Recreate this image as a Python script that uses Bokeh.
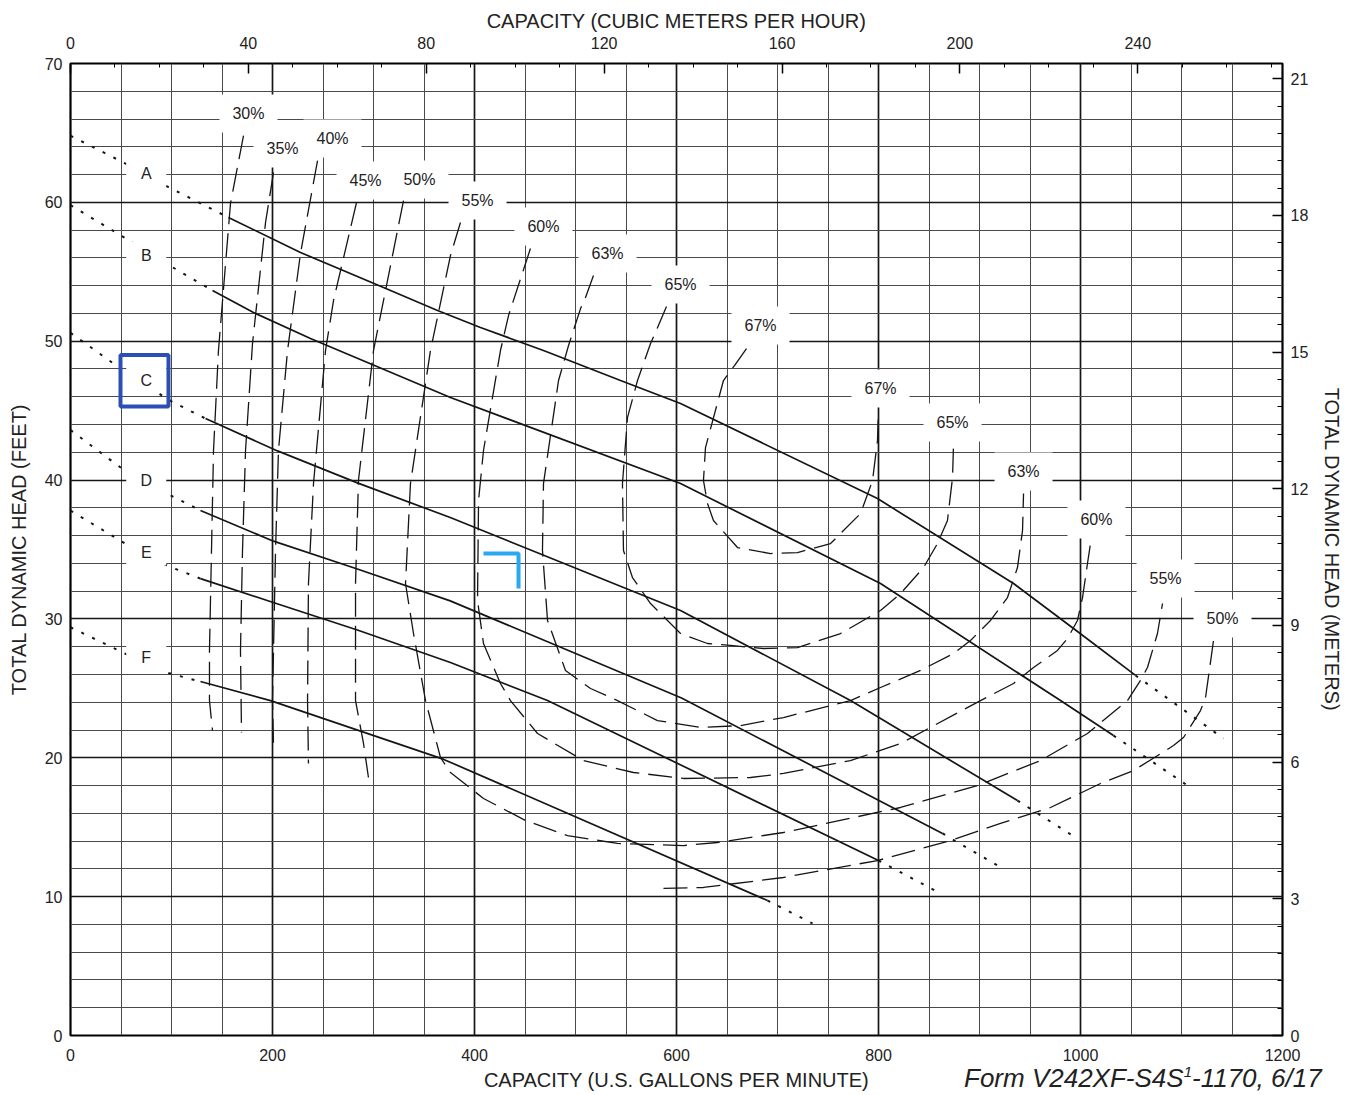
from bokeh.plotting import figure
from bokeh.layouts import column
from bokeh.models import (Range1d, LinearAxis, SingleIntervalTicker, BoxAnnotation,
                          Div, ColumnDataSource, FixedTicker)
from bokeh.core.properties import value
from bokeh.embed import file_html
from bokeh.resources import INLINE

FONT = "Liberation Sans"
GPM_TO_M3H = 0.227125
FT_TO_M = 0.3048

# ---------------- head-capacity curves (solid part) ----------------
curve_names = ["A", "B", "C", "D", "E", "F"]
A_q = [156.4, 227.7, 309.9, 363.4, 405.9, 468.3, 544.6, 604.0, 799.0, 933.7, 993.1, 1054.5]
A_h = [58.91, 56.39, 53.87, 52.21, 50.99, 49.33, 47.17, 45.51, 38.67, 32.55, 29.31, 25.93]
B_q = [140.6, 181.2, 237.6, 376.2, 604.0, 802.0, 980.2, 1032.7]
B_h = [53.65, 52.07, 50.19, 45.95, 39.75, 32.55, 24.12, 21.60]
C_q = [133.7, 205.0, 284.0, 376.0, 604.0, 772.3, 937.6]
C_h = [44.43, 42.10, 39.80, 37.30, 30.61, 24.12, 16.92]
D_q = [128.7, 201.0, 284.0, 376.0, 605.0, 863.4]
D_h = [37.81, 35.60, 33.60, 31.30, 24.30, 14.55]
E_q = [128.7, 200.0, 284.0, 376.2, 472.3, 800.0]
E_h = [32.90, 31.20, 29.20, 26.86, 24.12, 12.60]
F_q = [128.7, 198.0, 369.0, 690.1]
F_h = [25.49, 24.12, 19.90, 9.72]

# dotted extensions (low-flow side, passing behind the letter label)
A_lo_q = [0, 57, 97, 156.4];   A_lo_h = [64.8, 62.7, 61.1, 58.91]
B_lo_q = [0, 57, 97, 140.6];   B_lo_h = [59.8, 57.3, 55.5, 53.65]
C_lo_q = [0, 56, 99, 133.7];   C_lo_h = [50.6, 47.7, 45.7, 44.43]
D_lo_q = [0, 57, 99, 128.7];   D_lo_h = [43.6, 40.5, 38.9, 37.81]
E_lo_q = [0, 57, 97, 128.7];   E_lo_h = [37.8, 35.3, 33.8, 32.90]
F_lo_q = [0, 57, 97, 128.7];   F_lo_h = [29.4, 27.4, 26.1, 25.49]
# dotted extensions (high-flow side)
A_hi_q = [1054.5, 1141.6]; A_hi_h = [25.93, 21.39]
B_hi_q = [1032.7, 1108.9]; B_hi_h = [21.60, 17.86]
C_hi_q = [937.6, 992.1];   C_hi_h = [16.92, 14.40]
D_hi_q = [863.4, 917.8];   D_hi_h = [14.55, 12.24]
E_hi_q = [800.0, 861.4];   E_hi_h = [12.60, 10.23]
F_hi_q = [690.1, 734.7];   F_hi_h = [9.72, 8.07]

# curve letter labels
letter_q = [75, 75, 75, 75, 75, 75]
letter_h = [62.1, 56.2, 47.2, 40.0, 34.8, 27.2]

# ---------------- iso-efficiency curves (dashed) ----------------
eff30_q = [171.3, 158.4, 146.5, 141.6, 139.6, 137.6, 137.6, 140.6]
eff30_h = [64.81, 59.92, 49.33, 42.13, 34.93, 27.73, 24.12, 21.96]
eff35_q = [201.0, 193.1, 180.2, 173.3, 170.3, 168.3, 169.3]
eff35_h = [62.15, 58.55, 49.83, 42.13, 34.93, 27.73, 21.82]
eff40_q = [244.6, 227.7, 214.9, 205.9, 203.0, 201.0, 200.0, 201.0]
eff40_h = [63.01, 56.32, 49.33, 42.13, 34.93, 27.73, 24.12, 20.88]
eff45_q = [283.2, 260.4, 252.5, 240.6, 235.6, 234.7, 235.6]
eff45_h = [59.99, 52.93, 49.33, 39.75, 32.55, 24.12, 19.59]
eff50a_q = [329.7, 309.9, 300.0, 285.1, 282.2, 282.2, 290.1, 295.0]
eff50a_h = [60.13, 52.93, 49.33, 39.97, 32.55, 24.12, 21.03, 18.58]
eff50b_q = [587.1, 626.7, 705.9, 799.0, 871.3, 920.8, 970.3, 1019.8, 1052.5, 1092.1,
            1102.0, 1118.8, 1123.8, 1131.7]
eff50b_h = [10.59, 10.66, 11.38, 12.60, 14.04, 15.27, 16.42, 18.15, 19.08, 20.88,
            21.46, 23.40, 24.34, 28.45]
eff55_q = [386.1, 376.2, 356.4, 336.6, 331.7, 339.6, 351.5, 366.3, 376.2, 408.9, 450.5,
           492.1, 541.6, 606.9, 640.6, 705.9, 821.8, 898.0, 960.4, 1006.9, 1046.5, 1059.4,
           1066.3, 1076.2, 1081.2]
eff55_h = [58.55, 56.17, 49.33, 39.75, 32.55, 28.95, 24.12, 20.02, 18.94, 17.07, 15.48,
           14.40, 13.83, 13.68, 13.90, 14.62, 16.42, 18.00, 19.80, 21.75, 24.12, 25.57,
           26.50, 28.95, 31.11]
eff60_q = [455.4, 433.7, 425.7, 408.9, 404.0, 403.0, 408.9, 425.7, 435.6, 462.4, 507.9,
           557.4, 606.9, 673.3, 705.9, 772.3, 821.8, 901.0, 933.7, 953.5, 977.2, 987.1,
           997.0, 1002.0, 1006.9, 1009.9]
eff60_h = [56.68, 51.85, 49.33, 42.13, 38.53, 31.33, 28.23, 25.35, 24.12, 21.75, 19.80,
           18.94, 18.51, 18.58, 18.87, 19.80, 21.03, 24.12, 25.35, 26.50, 27.73, 28.59,
           29.89, 31.54, 33.99, 35.43]
eff63_q = [517.8, 509.9, 505.0, 493.1, 483.2, 468.3, 467.3, 472.3, 490.1, 514.9, 541.6,
           581.2, 623.8, 663.4, 705.9, 772.3, 802.0, 841.6, 874.3, 891.1, 910.9, 927.7,
           937.6, 942.6, 943.6]
eff63_h = [54.73, 53.15, 52.35, 49.69, 47.17, 39.75, 34.93, 29.89, 26.29, 24.99, 24.12,
           22.68, 22.18, 22.32, 22.90, 24.12, 25.06, 26.29, 27.51, 28.45, 29.89, 31.54,
           33.70, 36.37, 39.03]
eff65_q = [590.1, 579.2, 574.3, 561.4, 551.5, 546.5, 547.5, 556.4, 574.3, 591.1, 604.0,
           630.7, 653.5, 686.1, 719.8, 762.4, 802.0, 821.8, 844.6, 858.4, 868.3, 873.3, 874.3]
eff65_h = [52.50, 50.63, 49.83, 47.17, 44.51, 39.75, 34.93, 32.98, 31.11, 29.89, 28.95,
           28.23, 28.09, 27.87, 27.94, 28.95, 30.61, 31.83, 33.70, 35.43, 37.09, 40.18, 42.63]
eff67_q = [669.3, 657.4, 646.5, 628.7, 626.7, 630.7, 636.6, 660.4, 693.1, 719.8, 752.5,
           782.2, 794.1, 799.0, 800.0]
eff67_h = [49.47, 48.25, 47.17, 42.34, 39.97, 38.31, 37.09, 35.14, 34.71, 34.78, 35.43,
           37.59, 39.97, 42.85, 45.01]

eff_label_text = ["30%", "35%", "40%", "45%", "50%", "55%", "60%", "63%", "65%", "67%",
                  "67%", "65%", "63%", "60%", "55%", "50%"]
eff_label_q = [176.2, 209.9, 259.4, 292.1, 345.5, 403.0, 468.3, 531.7, 604.0, 683.2,
               802.0, 873.3, 943.6, 1015.8, 1084.2, 1140.6]
eff_label_h = [66.40, 63.88, 64.60, 61.57, 61.64, 60.13, 58.26, 56.32, 54.08, 51.13,
               46.59, 44.14, 40.62, 37.16, 32.91, 30.03]

# axis ticks
x_ticks_gpm = [0, 200, 400, 600, 800, 1000, 1200]
y_ticks_ft = [0, 10, 20, 30, 40, 50, 60, 70]

form_html = ("Form V242XF-S4S<sup style='font-size:15px;line-height:0;"
             "vertical-align:super'>1</sup>-1170, 6/17")

# marker annotations seen on the chart
mark_box = dict(left=49.5, right=97.0, bottom=45.3, top=49.0)
mark_corner_q = [408.9, 443.6, 443.6]
mark_corner_h = [34.71, 34.71, 32.19]

# ---------------- figure ----------------
p = figure(width=1346, height=1093, output_backend="svg", toolbar_location=None,
           x_range=Range1d(0, 1200), y_range=Range1d(0, 70),
           min_border_left=70, min_border_right=64, min_border_top=63, min_border_bottom=58,
           background_fill_color="white", border_fill_color="white")
p.extra_x_ranges = {"m3h": Range1d(0, 1200 * GPM_TO_M3H)}
p.extra_y_ranges = {"m": Range1d(0, 70 * FT_TO_M)}
p.outline_line_color = "#000000"
p.outline_line_width = 2.2

# grids
p.xgrid.ticker = SingleIntervalTicker(interval=200, num_minor_ticks=4)
p.ygrid.ticker = SingleIntervalTicker(interval=10, num_minor_ticks=5)
for g in (p.xgrid, p.ygrid):
    g.grid_line_color = "#151515"
    g.grid_line_width = 1.7
    g.minor_grid_line_color = "#4a4a4a"
    g.minor_grid_line_width = 1.0


def style_axis(ax, label, tick_in=0, minor_in=0, standoff=9, label_standoff=3):
    ax.axis_label = label
    ax.axis_label_text_font = FONT
    ax.axis_label_text_font_size = "20px"
    ax.axis_label_text_font_style = "normal"
    ax.axis_label_text_color = "#222222"
    ax.axis_label_standoff = label_standoff
    ax.major_label_text_font = FONT
    ax.major_label_text_font_size = "16px"
    ax.major_label_text_color = "#222222"
    ax.major_label_standoff = standoff
    ax.axis_line_color = None
    ax.major_tick_in = tick_in
    ax.major_tick_out = 0
    ax.minor_tick_in = minor_in
    ax.minor_tick_out = 0
    ax.major_tick_line_color = "#000000"
    ax.major_tick_line_width = 1.5
    ax.minor_tick_line_color = "#000000"
    ax.minor_tick_line_width = 1.0


bx = p.xaxis[0]
bx.ticker = FixedTicker(ticks=x_ticks_gpm)
style_axis(bx, "CAPACITY (U.S. GALLONS PER MINUTE)", standoff=13, label_standoff=5)
ly = p.yaxis[0]
ly.ticker = FixedTicker(ticks=y_ticks_ft)
style_axis(ly, "TOTAL DYNAMIC HEAD (FEET)", standoff=8, label_standoff=12)

top = LinearAxis(x_range_name="m3h",
                 ticker=SingleIntervalTicker(interval=40, num_minor_ticks=4))
style_axis(top, "CAPACITY (CUBIC METERS PER HOUR)", tick_in=10, minor_in=4,
           standoff=15, label_standoff=2)
p.add_layout(top, "above")

right = LinearAxis(y_range_name="m",
                   ticker=SingleIntervalTicker(interval=3, num_minor_ticks=5))
style_axis(right, "TOTAL DYNAMIC HEAD (METERS)", tick_in=10, minor_in=5,
           standoff=8, label_standoff=10)
p.add_layout(right, "right")

# ---------------- draw curves ----------------
INK = "#151515"
solid = {"A": (A_q, A_h), "B": (B_q, B_h), "C": (C_q, C_h),
         "D": (D_q, D_h), "E": (E_q, E_h), "F": (F_q, F_h)}
low = {"A": (A_lo_q, A_lo_h), "B": (B_lo_q, B_lo_h), "C": (C_lo_q, C_lo_h),
       "D": (D_lo_q, D_lo_h), "E": (E_lo_q, E_lo_h), "F": (F_lo_q, F_lo_h)}
high = {"A": (A_hi_q, A_hi_h), "B": (B_hi_q, B_hi_h), "C": (C_hi_q, C_hi_h),
        "D": (D_hi_q, D_hi_h), "E": (E_hi_q, E_hi_h), "F": (F_hi_q, F_hi_h)}

eff_curves = [(eff30_q, eff30_h), (eff35_q, eff35_h), (eff40_q, eff40_h),
              (eff45_q, eff45_h), (eff50a_q, eff50a_h), (eff50b_q, eff50b_h),
              (eff55_q, eff55_h), (eff60_q, eff60_h), (eff63_q, eff63_h),
              (eff65_q, eff65_h), (eff67_q, eff67_h)]
for q, h in eff_curves:
    p.line(q, h, line_color=INK, line_width=1.3, line_dash="24 9")

for name in curve_names:
    q, h = low[name]
    p.line(q, h, line_color=INK, line_width=2.0, line_dash="3 9")
    q, h = high[name]
    p.line(q, h, line_color=INK, line_width=2.0, line_dash="3 9")
    q, h = solid[name]
    p.line(q, h, line_color=INK, line_width=1.7)

# white label boxes (hide grid behind labels)
eff_src = ColumnDataSource(dict(x=eff_label_q, y=eff_label_h, t=eff_label_text))
let_src = ColumnDataSource(dict(x=letter_q, y=letter_h, t=curve_names))
p.rect(x="x", y="y", width=58, height=38, width_units="screen", height_units="screen",
       source=eff_src, fill_color="white", line_color=None)
p.rect(x="x", y="y", width=40, height=26, width_units="screen", height_units="screen",
       source=let_src, fill_color="white", line_color=None)

p.text(x="x", y="y", text="t", source=eff_src, text_font=value(FONT),
       text_font_size="16px", text_align="center", text_baseline="middle",
       text_color="#222222")
p.text(x="x", y="y", text="t", source=let_src, text_font=value(FONT),
       text_font_size="16px", text_align="center", text_baseline="middle",
       text_color="#222222")

# marker annotations
p.add_layout(BoxAnnotation(left=mark_box["left"], right=mark_box["right"],
                           bottom=mark_box["bottom"], top=mark_box["top"],
                           fill_alpha=0, line_alpha=1.0, line_color="#2c4fb5",
                           line_width=4))
p.line(mark_corner_q, mark_corner_h, line_color="#2aa8f0", line_width=4)

# form number under the chart, tucked up against the figure's lower edge
form = Div(text=form_html, width=380, height=30, margin=(-30, 0, 0, 964),
           styles={"font-family": FONT, "font-style": "italic", "font-size": "26px",
                   "color": "#222222", "line-height": "30px", "white-space": "nowrap"})

page = column(p, form, spacing=0)
open("out.html", "w").write(file_html(page, INLINE))
